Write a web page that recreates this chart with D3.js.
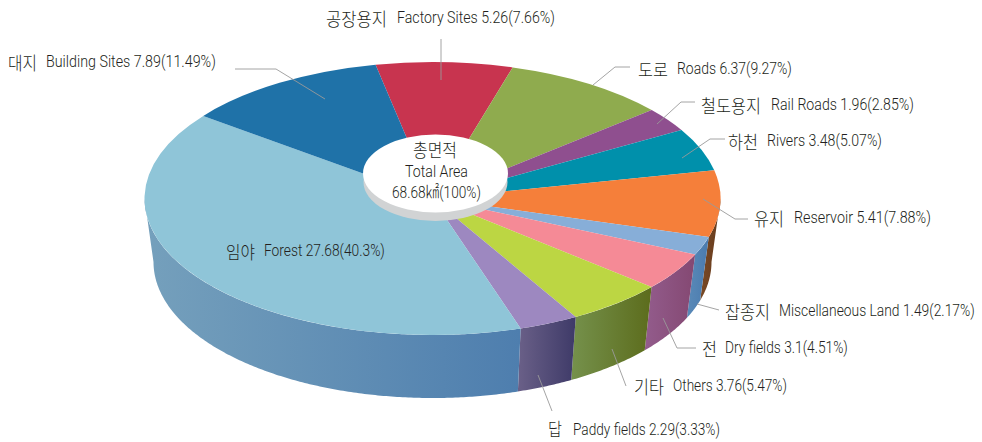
<!DOCTYPE html>
<html><head><meta charset="utf-8">
<script src="https://cdn.jsdelivr.net/npm/d3@7"></script>
<style>html,body{margin:0;padding:0;background:#fff}svg{display:block}</style>
</head><body><div id="chart"></div>
<script>
const namesKo=["공장용지","도로","철도용지","하천","유지","잡종지","전","기타","답","임야","대지"];
const namesEn=["Factory Sites","Roads","Rail Roads","Rivers","Reservoir","Miscellaneous Land","Dry fields","Others","Paddy fields","Forest","Building Sites"];
const values=[5.26,6.37,1.96,3.48,5.41,1.49,3.1,3.76,2.29,27.68,7.89];
const shares=["7.66","9.27","2.85","5.07","7.88","2.17","4.51","5.47","3.33","40.3","11.49"];
const topColors=["#c8344f","#8fab4e","#8f4f8f","#0090ab","#f57f3a","#87aed8","#f58a96","#bcd643","#9d88c0","#8fc5d8","#1f72a8"];
const wallLeft=["#888","#888","#888","#888","#7a4a26","#5a8ab8","#935c8c","#75914c","#6a6088","#75a0bc","#888"];
const wallRight=["#888","#888","#888","#888","#653a1c","#4a7aae","#844872","#5c6c1c","#3e3a68","#4e7eae","#888"];
// label layout: [koX, koEnd, enX, enEnd, baseline]
const labelBoxes=[[326,387,397,555,23],[638,668,677,792,74],[701,761,771,914,110],[728,758,767,882,146],[754,784,794,931,223],[725,770,779,975,316],[702,717,725,848,353],[634,664,673,787,391],[548,562,573,720,435],[226,255,264,385,256],[8,37,46,216,67]];
const leaders=[[[441,39],[441,80]],[[630,67],[615,67],[593,85]],[[695,102],[681,102],[657,124]],[[725,139],[710,139],[682,158]],[[748,219],[735,219],[703,199]],[[719,310],[697,304]],[[696,348],[677,348],[663,318]],[[626,386],[612,349]],[[552,411],[538,375]],null,[[235,69],[276,69],[325,99]]];

const W=982,H=442,cx=432.5,cy=198.5,rx=288,ry=136.5,bcy=262,brx=279,bry=136;
const svg=d3.select("#chart").append("svg").attr("width",W).attr("height",H);
const defs=svg.append("defs");
const rad=d=>d*Math.PI/180;
const start=rad(-11.4);
const pie=d3.pie().sort(null).startAngle(start).endAngle(start+2*Math.PI);
const arcs=pie(values);

// side walls
const line=d3.line();
arcs.forEach((a,i)=>{
  const a0=Math.max(a.startAngle,Math.PI/2),a1=Math.min(a.endAngle,3*Math.PI/2);
  if(a1<=a0) return;
  const n=Math.ceil((a1-a0)/0.01);
  const ts=d3.range(n+1).map(k=>a0+(a1-a0)*k/n);
  const up=ts.map(t=>[cx+rx*Math.sin(t),cy-ry*Math.cos(t)]);
  const dn=ts.map(t=>[cx+brx*Math.sin(t),bcy-bry*Math.cos(t)]).reverse();
  const xs=up.concat(dn).map(p=>p[0]);
  const id="w"+i;
  const g=defs.append("linearGradient").attr("id",id).attr("gradientUnits","userSpaceOnUse")
    .attr("x1",d3.max(xs)).attr("x2",d3.min(xs)).attr("y1",0).attr("y2",0);
  g.append("stop").attr("offset",0).attr("stop-color",wallRight[i]);
  g.append("stop").attr("offset",1).attr("stop-color",wallLeft[i]);
  svg.append("path").attr("d",line(up.concat(dn))+"Z").attr("fill",`url(#${id})`);
});

// top faces
const arc=d3.arc().innerRadius(0).outerRadius(rx);
svg.append("g").attr("transform",`translate(${cx},${cy}) scale(1,${ry/rx})`)
  .selectAll("path").data(arcs).join("path").attr("d",arc).attr("fill",(d,i)=>topColors[i]);

// leaders
svg.append("g").selectAll("path").data(leaders.filter(Boolean)).join("path")
  .attr("d",line).attr("fill","none").attr("stroke","#9a9a9a").attr("stroke-width",0.9);

// centre disc
svg.append("ellipse").attr("cx",435.5).attr("cy",182).attr("rx",72).attr("ry",39).attr("fill","#d1d3d4");
svg.append("ellipse").attr("cx",435.5).attr("cy",173.5).attr("rx",72.5).attr("ry",39).attr("fill","#fff");

const koFont='"Noto Sans CJK KR"',enFont='Roboto,"Noto Sans CJK KR"',ink="#231f20";
function txt(s,x,end,y,font,size,weight){
  const t=svg.append("text").text(s).attr("x",0).attr("y",0).attr("font-family",font).attr("font-size",size)
    .attr("font-weight",weight).attr("fill",ink);
  const natural=t.node().getComputedTextLength();
  t.attr("transform",`translate(${x},${y}) scale(${(end-x)/natural},1)`);
}
namesKo.forEach((k,i)=>{
  const b=labelBoxes[i];
  txt(k,b[0],b[1],b[4]+(i===8?0.5:2.5),koFont,18.5,300);
  txt(`${namesEn[i]} ${values[i]}(${shares[i]}%)`,b[2],b[3],b[4],enFont,16.5,300);
});
txt("총면적",413,457,157,koFont,18.5,300);
txt("Total Area",405,468,177,enFont,16.5,300);
txt("68.68㎢(100%)",392,481,198,enFont,16.5,300);
</script></body></html>
